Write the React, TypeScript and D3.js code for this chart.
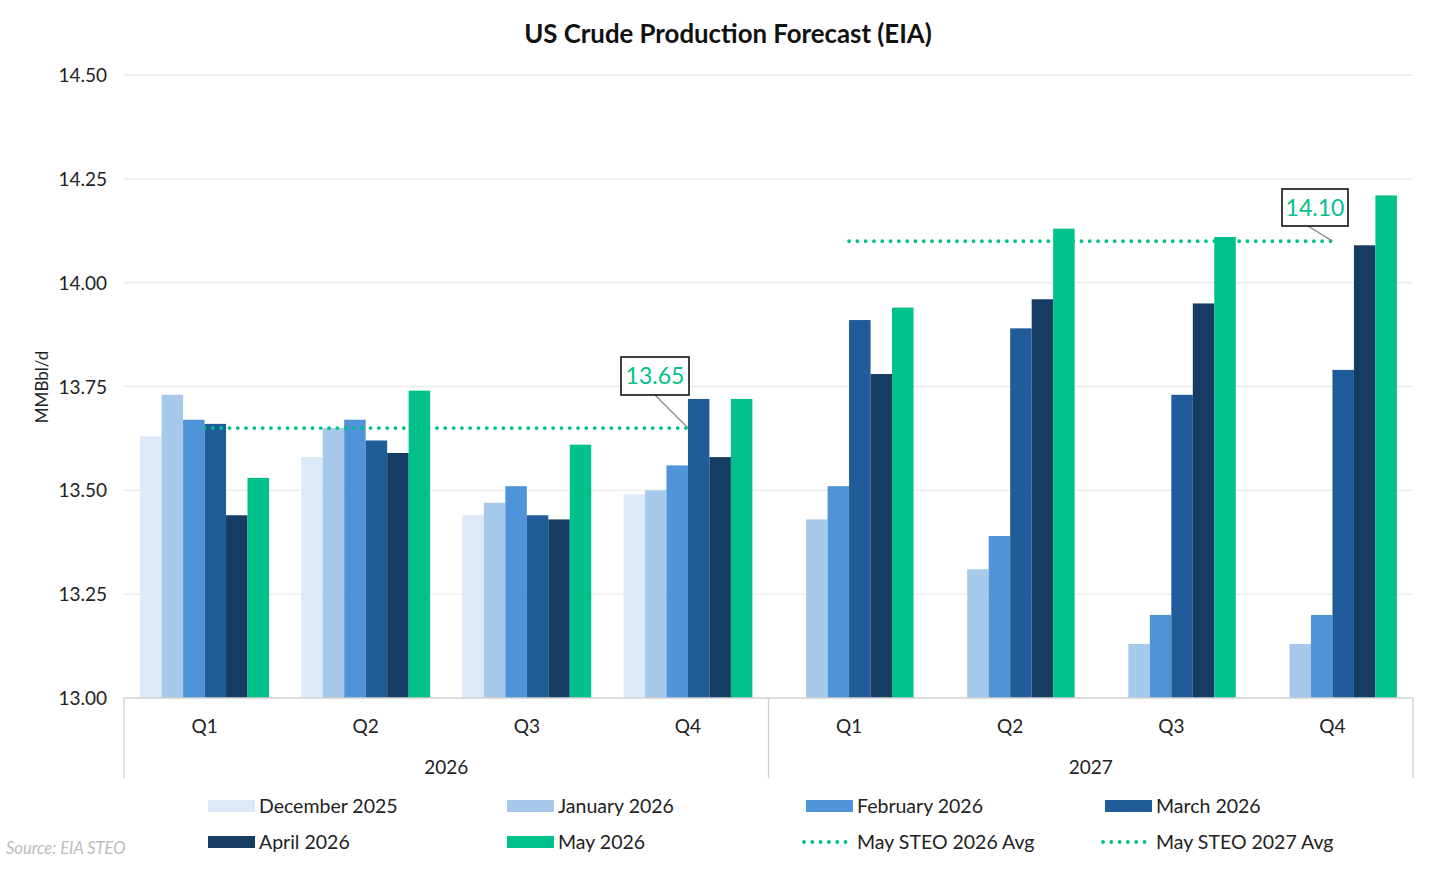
import React from "react";
import * as d3 from "d3";

const quarters = ["Q1", "Q2", "Q3", "Q4", "Q1", "Q2", "Q3", "Q4"];
const years = ["2026", "2027"];
const seriesNames = ["December 2025", "January 2026", "February 2026", "March 2026", "April 2026", "May 2026"];
const seriesColors = ["#dce9f6", "#a6c8eb", "#4f94d8", "#1f5c99", "#173c63", "#00c08b"];

const dec2025 = [13.63, 13.58, 13.44, 13.49, null, null, null, null];
const jan2026 = [13.73, 13.65, 13.47, 13.50, 13.43, 13.31, 13.13, 13.13];
const feb2026 = [13.67, 13.67, 13.51, 13.56, 13.51, 13.39, 13.20, 13.20];
const mar2026 = [13.66, 13.62, 13.44, 13.72, 13.91, 13.89, 13.73, 13.79];
const apr2026 = [13.44, 13.59, 13.43, 13.58, 13.78, 13.96, 13.95, 14.09];
const may2026 = [13.53, 13.74, 13.61, 13.72, 13.94, 14.13, 14.11, 14.21];
const seriesValues: (number | null)[][] = [dec2025, jan2026, feb2026, mar2026, apr2026, may2026];

const avg2026 = 13.65;
const avg2027 = 14.10;
const yTicks = [13.0, 13.25, 13.5, 13.75, 14.0, 14.25, 14.5];

const W = 1456;
const H = 874;
const left = 124;
const right = 1413;
const top = 75;
const bottom = 698;
const font = "Lato, 'Open Sans', sans-serif";
const green = "#00c08b";

export default function App() {
  const x = d3.scaleBand<number>().domain(d3.range(8)).range([left, right]).paddingInner(0.2).paddingOuter(0.1);
  const bandStep = (right - left) / 8;
  const x0 = d3.scaleBand<number>().domain(d3.range(8)).range([left, right]).padding(0);
  const xs = d3.scaleBand<number>().domain(d3.range(6)).range([0, bandStep * 0.8]);
  const y = d3.scaleLinear().domain([13, 14.5]).range([bottom, top]);
  const yearX = d3.scaleBand<number>().domain([0, 1]).range([left, right]);

  const c = (i: number) => (x0(i) as number) + bandStep / 2;

  const legendItems = [
    { name: seriesNames[0], color: seriesColors[0], type: "bar" },
    { name: seriesNames[1], color: seriesColors[1], type: "bar" },
    { name: seriesNames[2], color: seriesColors[2], type: "bar" },
    { name: seriesNames[3], color: seriesColors[3], type: "bar" },
    { name: seriesNames[4], color: seriesColors[4], type: "bar" },
    { name: seriesNames[5], color: seriesColors[5], type: "bar" },
    { name: "May STEO 2026 Avg", color: green, type: "line" },
    { name: "May STEO 2027 Avg", color: green, type: "line" },
  ];
  const legendCols = [208, 507, 806, 1105];
  const legendRows = [806, 842];

  const avgLines = [
    { v: avg2026, x1: c(0), x2: c(3), label: "13.65", bx: 621, by: 357, bw: 68, bh: 38, lx: 655 },
    { v: avg2027, x1: c(4), x2: c(7), label: "14.10", bx: 1282, by: 189, bw: 66, bh: 37, lx: 1308 },
  ];

  return (
    <svg width={W} height={H} style={{ position: "absolute", left: 0, top: 0, background: "#fff" }} fontFamily={font}>
      <rect width={W} height={H} fill="#fff" />
      <text x={728} y={43} textAnchor="middle" fontSize={25.8} fontWeight={700} fill="#111">
        US Crude Production Forecast (EIA)
      </text>

      {yTicks.slice(1).map((t) => (
        <line key={t} x1={left} x2={right} y1={y(t)} y2={y(t)} stroke="#ebebeb" strokeWidth={1.3} />
      ))}
      {yTicks.map((t) => (
        <text key={"l" + t} x={107} y={y(t) + 7} textAnchor="end" fontSize={19} fill="#222">
          {t.toFixed(2)}
        </text>
      ))}
      <text transform={`translate(48,387) rotate(-90)`} textAnchor="middle" fontSize={17} fill="#222">
        MMBbl/d
      </text>

      {seriesValues.map((vals, s) =>
        vals.map((v, i) =>
          v == null ? null : (
            <rect
              key={s + "-" + i}
              x={(x(i) as number) + (xs(s) as number)}
              y={y(v)}
              width={xs.bandwidth()}
              height={bottom - y(v)}
              fill={seriesColors[s]}
            />
          )
        )
      )}

      {avgLines.map((a, k) => (
        <g key={k}>
          <line
            x1={a.x1}
            x2={a.x2}
            y1={y(a.v)}
            y2={y(a.v)}
            stroke={green}
            strokeWidth={3.8}
            strokeLinecap="round"
            strokeDasharray="0 8.3"
          />
          <line x1={a.lx} y1={a.by + a.bh} x2={a.x2} y2={y(a.v)} stroke="#888" strokeWidth={1.2} />
          <rect x={a.bx} y={a.by} width={a.bw} height={a.bh} fill="#fff" stroke="#111" strokeWidth={1.6} />
          <text x={a.bx + a.bw / 2} y={a.by + a.bh / 2 + 8} textAnchor="middle" fontSize={23} fill={green}>
            {a.label}
          </text>
        </g>
      ))}

      {/* x axis */}
      <line x1={left} x2={right} y1={bottom} y2={bottom} stroke="#d0d0d0" strokeWidth={1.3} />
      {[left, (left + right) / 2, right].map((lx, i) => (
        <line key={i} x1={lx} x2={lx} y1={bottom} y2={778} stroke="#d0d0d0" strokeWidth={1.3} />
      ))}
      {quarters.map((q, i) => (
        <text key={"q" + i} x={c(i)} y={733} textAnchor="middle" fontSize={19} fill="#222">
          {q}
        </text>
      ))}
      {years.map((yr, i) => (
        <text key={yr} x={(yearX(i) as number) + yearX.bandwidth() / 2} y={774} textAnchor="middle" fontSize={19} fill="#222">
          {yr}
        </text>
      ))}

      {/* legend */}
      {legendItems.map((it, i) => {
        const lx = legendCols[i % 4];
        const ly = legendRows[Math.floor(i / 4)];
        return (
          <g key={it.name}>
            {it.type === "bar" ? (
              <rect x={lx} y={ly - 6} width={47} height={12} fill={it.color} />
            ) : (
              <line
                x1={lx - 2}
                x2={lx + 44}
                y1={ly}
                y2={ly}
                stroke={it.color}
                strokeWidth={3.8}
                strokeLinecap="round"
                strokeDasharray="0 8.3"
              />
            )}
            <text x={lx + 51} y={ly + 7} fontSize={19.5} fill="#222">
              {it.name}
            </text>
          </g>
        );
      })}

      <text x={6} y={854} fontSize={16.5} fontStyle="italic" fill="#bbbbbb">
        Source: EIA STEO
      </text>
    </svg>
  );
}
